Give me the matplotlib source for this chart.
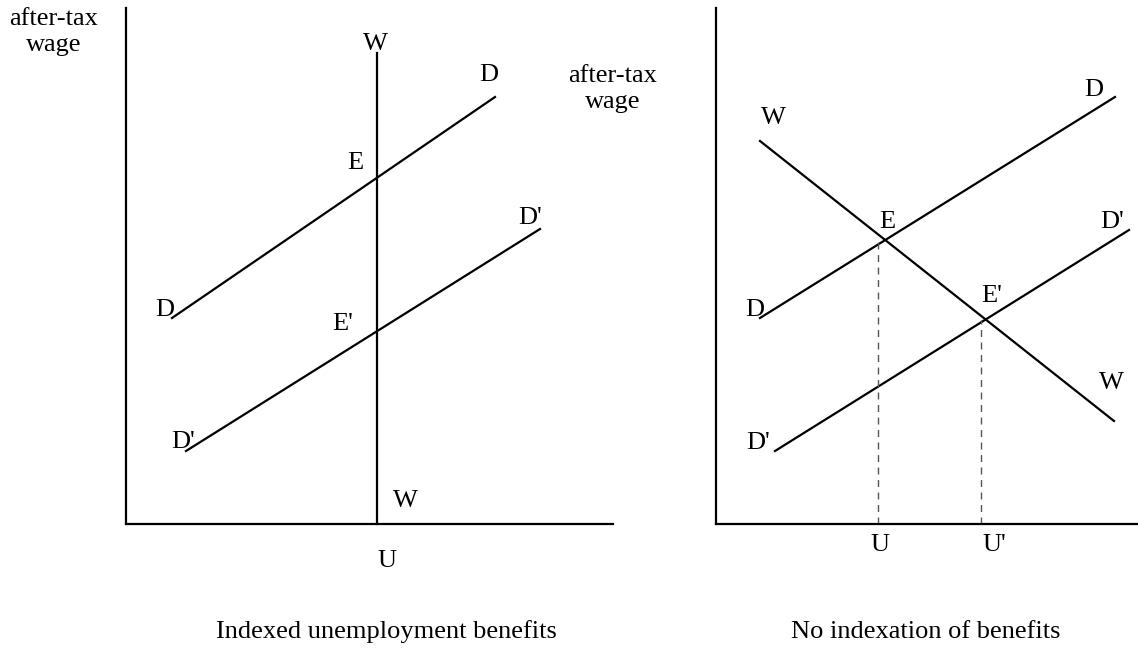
import matplotlib.pyplot as plt

plt.rcParams["font.family"] = ["Liberation Serif", "DejaVu Serif"]

# panel units: origin at the axes corner, x to the right, y up
left_w_curve = ([251, 251], [0, 471])
left_d_curve = ([46, 369], [206, 427])
left_dp_curve = ([60, 414], [73, 295])
left_labels = [
    ("W", 249, 480), ("D", 363, 449), ("E", 229, 361), ("D'", 404, 306),
    ("D", 39, 214), ("E'", 217, 200), ("D'", 57, 82), ("W", 279, 23),
    ("U", 261, -37),
]

right_w_curve = ([44, 398], [383, 103])
right_d_curve = ([44, 399], [206, 427])
right_dp_curve = ([59, 413], [73, 294])
right_dashes = [([162, 162], [0, 283]), ([265, 265], [0, 204])]
right_labels = [
    ("W", 57, 406), ("D", 378, 434), ("E", 171, 302), ("D'", 396, 302),
    ("D", 39, 214), ("E'", 276, 228), ("W", 395, 141), ("D'", 42, 81),
    ("U", 164, -21), ("U'", 278, -21),
]

ylabel = "after-tax\nwage"
left_title = "Indexed unemployment benefits"
right_title = "No indexation of benefits"

W, H = 1138, 648
fig = plt.figure(figsize=(W / 100, H / 100), dpi=100)


def make_axes(x0, x1, y0=8, y1=524):
    ax = fig.add_axes([x0 / W, 1 - y1 / H, (x1 - x0) / W, (y1 - y0) / H])
    ax.set_xlim(0, x1 - x0)
    ax.set_ylim(0, y1 - y0)
    for s in ["top", "right"]:
        ax.spines[s].set_visible(False)
    for s in ["left", "bottom"]:
        ax.spines[s].set_linewidth(1.6)
    ax.set_xticks([])
    ax.set_yticks([])
    ax.patch.set_visible(False)
    return ax


fs = 19
ax1 = make_axes(126, 613)
for xs, ys in [left_w_curve, left_d_curve, left_dp_curve]:
    ax1.plot(xs, ys, color="black", lw=1.6, clip_on=False)
for txt, x, y in left_labels:
    ax1.text(x, y, txt, ha="center", va="center", fontsize=fs, clip_on=False)
ax1.text(-72, 492, ylabel, ha="center", va="center", fontsize=fs,
         linespacing=1.2, clip_on=False)
ax1.text(260, -108, left_title, ha="center", va="center", fontsize=fs, clip_on=False)

ax2 = make_axes(716, 1138)
for xs, ys in [right_w_curve, right_d_curve, right_dp_curve]:
    ax2.plot(xs, ys, color="black", lw=1.6, clip_on=False)
for xs, ys in right_dashes:
    ax2.plot(xs, ys, color="#555555", lw=1.0, ls=(0, (5, 4)), clip_on=False)
for txt, x, y in right_labels:
    ax2.text(x, y, txt, ha="center", va="center", fontsize=fs, clip_on=False)
ax2.text(-103, 435, ylabel, ha="center", va="center", fontsize=fs,
         linespacing=1.2, clip_on=False)
ax2.text(210, -108, right_title, ha="center", va="center", fontsize=fs, clip_on=False)

fig.savefig("out.png", dpi=100)
